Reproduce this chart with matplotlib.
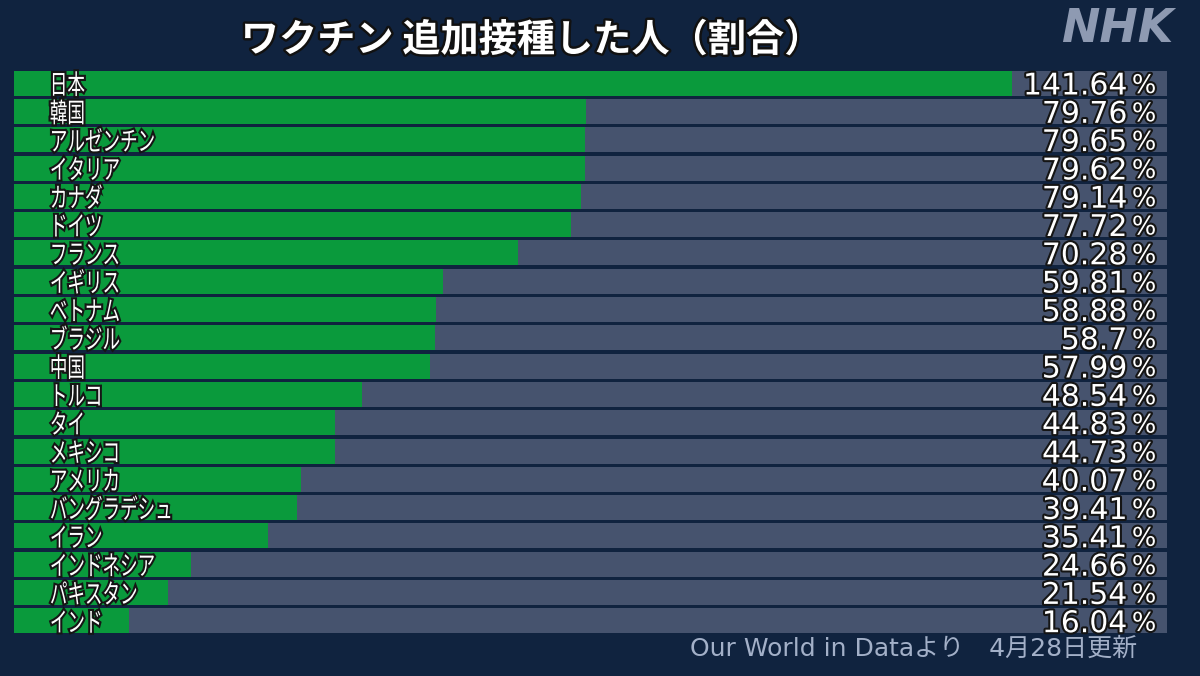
import numpy as np
import matplotlib
matplotlib.use('Agg')
import matplotlib.pyplot as plt
import matplotlib.patheffects as pe
from matplotlib.textpath import TextPath
from matplotlib.patches import PathPatch
from matplotlib.font_manager import FontProperties
from matplotlib.transforms import Affine2D, IdentityTransform

plt.rcParams['font.family'] = ['Noto Sans CJK JP', 'DejaVu Sans']

countries = ['日本', '韓国', 'アルゼンチン', 'イタリア', 'カナダ', 'ドイツ', 'フランス',
             'イギリス', 'ベトナム', 'ブラジル', '中国', 'トルコ', 'タイ', 'メキシコ',
             'アメリカ', 'バングラデシュ', 'イラン', 'インドネシア', 'パキスタン', 'インド']
values = [141.64, 79.76, 79.65, 79.62, 79.14, 77.72, 70.28, 59.81, 58.88, 58.7,
          57.99, 48.54, 44.83, 44.73, 40.07, 39.41, 35.41, 24.66, 21.54, 16.04]
labels = ['141.64', '79.76', '79.65', '79.62', '79.14', '77.72', '70.28', '59.81', '58.88', '58.7',
          '57.99', '48.54', '44.83', '44.73', '40.07', '39.41', '35.41', '24.66', '21.54', '16.04']

title = 'ワクチン 追加接種した人（割合）'
source = 'Our World in Dataより　4月28日更新'

BG = '#10233f'
TRACK = '#46536e'
GREEN = '#0a9a3c'

fig = plt.figure(figsize=(12, 6.76), dpi=100, facecolor=BG)
ax = fig.add_axes([14 / 1200, 1 - 635 / 676, (1167 - 14) / 1200, (635 - 69) / 676])
ax.set_facecolor(BG)

xmax = 160.8
cap = 139.2  # long bars stop where the value label starts
n = len(values)
y = np.arange(n)
h = 0.88
ax.barh(y, [xmax] * n, height=h, color=TRACK, zorder=1)
ax.barh(y, np.minimum(values, cap), height=h, color=GREEN, zorder=2)
ax.set_xlim(0, xmax)
ax.set_ylim(n - 0.5, -0.5)
ax.axis('off')

stroke = [pe.withStroke(linewidth=3, foreground='#151515')]
jp = FontProperties(family='Noto Sans CJK JP')
em = 27.0
for i, (c, lab) in enumerate(zip(countries, labels)):
    # condensed country names, drawn as glyph outlines in pixel space
    px, py = ax.transData.transform((5.0, i))
    tp = TextPath((0, 0), c, size=em, prop=jp)
    tr = Affine2D().scale(0.65, 1.0).translate(px, py - 0.36 * em - 1)
    patch = PathPatch(tr.transform_path(tp), facecolor='white', edgecolor='none',
                      transform=IdentityTransform(), zorder=3,
                      path_effects=[pe.Stroke(linewidth=3, foreground='#151515'), pe.Normal()])
    fig.add_artist(patch)
    ax.text(155.3, i + 0.1, lab, color='white', fontsize=21.5, va='center', ha='right',
            family='DejaVu Sans', path_effects=stroke, zorder=3)
    ax.text(155.9, i + 0.1, '%', color='white', fontsize=18.5, va='center', ha='left',
            family='DejaVu Sans', path_effects=stroke, zorder=3)

fig.text(532 / 1200, 1 - 40 / 676, title, color='white', fontsize=27.5, fontweight='bold',
         ha='center', va='center',
         path_effects=[pe.withStroke(linewidth=3.5, foreground='#111111')])
fig.text(1117 / 1200, 1 - 29 / 676, 'NHK', color='#8e9ab2', fontsize=33,
         fontweight='bold', fontstyle='italic', family='DejaVu Sans',
         ha='center', va='center')
fig.text(1137 / 1200, 1 - 649 / 676, source, color='#a3b0c8', fontsize=18,
         family=['DejaVu Sans', 'Noto Sans CJK JP'], ha='right', va='center')

fig.savefig('out.png', dpi=100, facecolor=BG)
